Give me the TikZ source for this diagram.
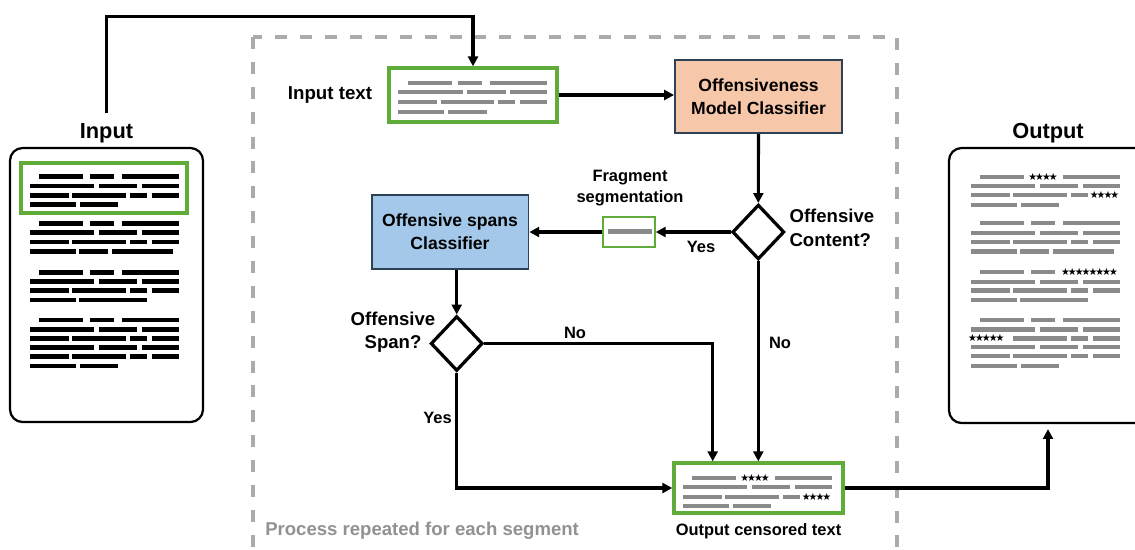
\documentclass[tikz,border=0pt]{standalone}
\usepackage{fontspec}
\setmainfont{Liberation Sans}
\newfontfamily\starfont{DejaVu Sans}[LetterSpace=-20]
\usepackage{tikz}
\usetikzlibrary{shapes.geometric, arrows.meta}

\definecolor{boxgreen}{RGB}{96,172,58}
\definecolor{peach}{HTML}{F7C7AA}
\definecolor{skyblue}{HTML}{A4C8EA}
\definecolor{navyline}{HTML}{2E4257}
\definecolor{txtgray}{HTML}{8A8A8A}
\definecolor{framegray}{HTML}{ABABAB}

% segments of one line of text, measured from the left margin of the block
\def\segA{9.3/53.3,60/84,91.7/149}
\def\segB{0/64.3,69/107.3,111.7/149}
\def\segC{0/39,42.3/95.7,100/116.7,121.7/149}
\def\segD{0/46,50/88.3}
\def\segE{0/46,49.3/78.3,82.3/143.3}
\def\segF{0/46,49.3/116.7}
% censored lines, the stars are put in by hand
\def\segAs{9.3/53.3,91.7/149}
\def\segCs{0/39,42.3/95.7,100/116.7}
\def\segAl{9.3/53.3,60/84}
\def\segCf{42.3/95.7,100/116.7,121.7/149}
\newcommand{\txtrow}[3]{\foreach \p/\q in #3 {\draw[#1] (\p,#2) -- (\q,#2);}}

\begin{document}
\begin{tikzpicture}[x=0.025cm, y=-0.025cm, >={Triangle[length=7pt,width=7pt]}]
\tikzstyle{doc}=[draw, line width=1.6pt, rounded corners=9pt, inner sep=0pt]
\tikzstyle{greenbox}=[draw=boxgreen, line width=2.4pt, inner sep=0pt]
\tikzstyle{procbox}=[draw=navyline, line width=1.3pt, align=center, inner sep=0pt]
\tikzstyle{decision}=[diamond, draw, line width=2.3pt, inner sep=0pt, minimum width=1.3cm, minimum height=1.37cm]
\tikzstyle{lbl}=[font=\bfseries\fontsize{13.2}{16.6}\selectfont, align=center, inner sep=0pt]
\tikzstyle{small lbl}=[font=\bfseries\fontsize{11.7}{15.2}\selectfont, align=center, inner sep=0pt]
\tikzstyle{flow}=[->, line width=2.2pt]
\tikzstyle{ink}=[line width=3.4pt]
\tikzstyle{greyink}=[txtgray, line width=3pt]
\tikzstyle{thin greyink}=[txtgray, line width=2.8pt]
\tikzstyle{stars}=[font=\starfont\fontsize{7}{7}\selectfont, inner sep=0pt]
\tikzstyle{repframe}=[framegray, line width=2.6pt, dash pattern=on 8.5pt off 9.2pt]
\tikzset{font=\bfseries\fontsize{12.5}{16.6}\selectfont}

\useasboundingbox (0,0) rectangle (1135,549);
\clip (0,0) rectangle (1135,549);

\draw[repframe] (253,37) rectangle (897,580);
\node[lbl, anchor=west, text=framegray!85!black] (proc) at (265,531) {Process repeated for each segment};

% input document
\node[doc, minimum width=4.825cm, minimum height=6.85cm] (indoc) at (106.5,285) {};
\node[lbl, font=\bfseries\fontsize{15.5}{18}\selectfont, node distance=3.8cm] (inlab) [above of=indoc] {Input};
\node[greenbox, minimum width=4.15cm, minimum height=1.25cm] (inhl) at (104,188) {};
\coordinate (feed) at (106.7,113.3);
\begin{scope}[shift={(30,0)}]
  \txtrow{ink}{176.7}{\segA}
  \txtrow{ink}{186}{\segB}
  \txtrow{ink}{195.2}{\segC}
  \txtrow{ink}{204.6}{\segD}
  \txtrow{ink}{223.3}{\segA}
  \txtrow{ink}{232.8}{\segB}
  \txtrow{ink}{242}{\segC}
  \txtrow{ink}{251.4}{\segE}
  \txtrow{ink}{272.3}{\segA}
  \txtrow{ink}{281.7}{\segB}
  \txtrow{ink}{290.4}{\segC}
  \txtrow{ink}{300}{\segF}
  \txtrow{ink}{320}{\segA}
  \txtrow{ink}{329.4}{\segB}
  \txtrow{ink}{338.4}{\segC}
  \txtrow{ink}{347.3}{\segB}
  \txtrow{ink}{356.3}{\segC}
  \txtrow{ink}{366}{\segD}
\end{scope}

% output document
\node[doc, minimum width=4.95cm, minimum height=6.875cm] (outdoc) at (1048,285.5) {};
\node[lbl, font=\bfseries\fontsize{15.5}{18}\selectfont, node distance=3.8cm] (outlab) [above of=outdoc] {Output};
\begin{scope}[shift={(971,0)}]
  \txtrow{greyink}{176.7}{\segAs}
  \node[stars] (st1) at (72,176.7) {★★★★};
  \txtrow{greyink}{186}{\segB}
  \txtrow{greyink}{195.2}{\segCs}
  \node[stars] (st2) at (133.5,195.2) {★★★★};
  \txtrow{greyink}{204.6}{\segD}
  \txtrow{greyink}{223.3}{\segA}
  \txtrow{greyink}{232.8}{\segB}
  \txtrow{greyink}{242}{\segC}
  \txtrow{greyink}{251.4}{\segE}
  \txtrow{greyink}{272.3}{\segAl}
  \node[stars] (st3) at (118.5,272.3) {★★★★★★★★};
  \txtrow{greyink}{281.7}{\segB}
  \txtrow{greyink}{290.4}{\segC}
  \txtrow{greyink}{300}{\segF}
  \txtrow{greyink}{320}{\segA}
  \txtrow{greyink}{329.4}{\segB}
  \txtrow{greyink}{338.4}{\segCf}
  \node[stars] (st4) at (15.3,338.4) {★★★★★};
  \txtrow{greyink}{347.3}{\segB}
  \txtrow{greyink}{356.3}{\segC}
  \txtrow{greyink}{366}{\segD}
\end{scope}

% one segment of the text
\node[greenbox, minimum width=4.2cm, minimum height=1.35cm] (intext) at (473,95) {};
\node[lbl, font=\bfseries\fontsize{13.3}{16}\selectfont, node distance=3.575cm] (intextlab) [left of=intext] {Input text};
\begin{scope}[shift={(398.3,0)}]
  \txtrow{thin greyink}{82.7}{\segA}
  \txtrow{thin greyink}{92.3}{\segB}
  \txtrow{thin greyink}{101.7}{\segC}
  \txtrow{thin greyink}{111.7}{\segD}
\end{scope}

\node[procbox, fill=peach, minimum width=4.175cm, minimum height=1.825cm] (omc) at (758.5,96.5) {Offensiveness\\Model Classifier};
\node[decision] (dcont) at (758.3,232) {};
\node[lbl, align=left, anchor=west] (dcontlab) at (789.3,228) {Offensive\\Content?};

\node[draw=boxgreen, line width=1pt, fill=white, minimum width=1.3cm, minimum height=0.75cm] (frag) at (629,232) {};
\draw[greyink] (607.7,231.5) -- (651.7,231.5);
\node[small lbl] (fraglab) at (630,188) {Fragment\\segmentation};

\node[procbox, fill=skyblue, minimum width=3.92cm, minimum height=1.85cm] (spans) at (450,232) {Offensive spans\\Classifier};
\node[decision] (dspan) at (456.7,343.5) {};
\node[lbl] (dspanlab) at (393,332) {Offensive\\Span?};

\node[greenbox, minimum width=4.225cm, minimum height=1.25cm] (outc) at (758.5,488) {};
\node[small lbl, node distance=1.075cm] (outclab) [below of=outc] {Output censored text};
\begin{scope}[shift={(683,0)}]
  \txtrow{thin greyink}{477.7}{\segAs}
  \node[stars] (st5) at (72,477.7) {★★★★};
  \txtrow{thin greyink}{487.3}{\segB}
  \txtrow{thin greyink}{496.7}{\segCs}
  \node[stars] (st6) at (133.5,496.7) {★★★★};
  \txtrow{thin greyink}{506}{\segD}
\end{scope}

% branch labels
\node[small lbl] (yes1) at (701,247) {Yes};
\node[small lbl] (no1) at (575,333) {No};
\node[small lbl] (no2) at (780,343) {No};
\node[small lbl] (yes2) at (437.5,418) {Yes};

\draw[flow] (feed) -- ++(0,-96.6) -| (intext.north);
\draw[flow] (intext.east) -- (intext.east -| omc.west);
\draw[flow] (omc.south) -- (dcont.north);
\draw[flow] (dcont.west) -- (frag.east);
\draw[flow] (frag.west) -- (spans.east);
\draw[flow] (spans.south -| dspan.north) -- (dspan.north);
\draw[flow] (dspan.east) -| ([xshift=-1.145cm]outc.north);
\draw[flow] (dcont.south) -- (outc.north -| dcont.south);
\draw[flow] (dspan.south) |- (outc.west);
\draw[flow, shorten >=3.5pt] (outc.east) -| (outdoc.south);

\end{tikzpicture}
\end{document}
